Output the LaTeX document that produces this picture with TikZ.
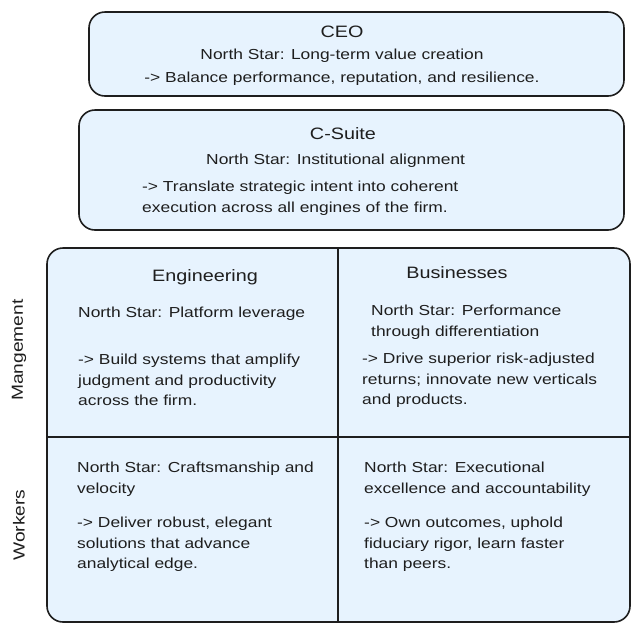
\documentclass[tikz,border=0pt]{standalone}
\usepackage{fontspec}
\setmainfont[FakeStretch=1.2]{Liberation Sans}
\definecolor{boxfill}{HTML}{E7F3FE}
\definecolor{ink}{HTML}{1E1E1E}
\begin{document}
\begin{tikzpicture}[x=1pt,y=-1pt,
  panel/.style={draw=ink, fill=boxfill, line width=1.6pt, rounded corners=16pt, inner sep=0pt},
  divider/.style={draw=ink, line width=1.6pt},
  title/.style={font=\fontsize{16.5}{22}\selectfont, text=ink, inner sep=0pt},
  body/.style={font=\fontsize{14.5}{20.5}\selectfont, text=ink, inner sep=0pt, align=left},
  sidelabel/.style={font=\fontsize{16}{20}\selectfont, text=ink, inner sep=0pt, rotate=90}]
\useasboundingbox (0,0) rectangle (639,633);
% boxes
\node[panel, minimum width=535pt, minimum height=84pt] (ceo) at (356.5,54) {};
\node[panel, minimum width=545pt, minimum height=120pt] (csuite) at (351.5,170) {};
\node[panel, minimum width=583pt, minimum height=374pt] (grid) at (338.5,435) {};
\coordinate (vtop) at (338,248);
\coordinate (vbot) at (338,622);
\coordinate (hleft) at (47,437);
\coordinate (hright) at (630,437);
\draw[divider] (vtop) -- (vbot);
\draw[divider] (hleft) -- (hright);
% CEO
\node[title] (ceot) at (342,32) {CEO};
\node[body] (ceon) at (342,56) {North Star: Long-term value creation};
\node[body] (ceod) at (342,79) {-> Balance performance, reputation, and resilience.};
% C-Suite
\node[title] (cst) at (343,134) {C-Suite};
\node[body, anchor=west] (csn) at (206,161) {North Star: Institutional alignment};
\node[body, anchor=north west] (csd) at (142,181) {-> Translate strategic intent into coherent\\execution across all engines of the firm.};
% Engineering
\node[title] (engt) at (205,277) {Engineering};
\node[body, anchor=west] (engn) at (78,314) {North Star: Platform leverage};
\node[body, anchor=north west] (engd) at (78,354) {-> Build systems that amplify\\judgment and productivity\\across the firm.};
% Businesses
\node[title] (bust) at (457,273) {Businesses};
\node[body, anchor=north west] (busn) at (371,305) {North Star: Performance\\through differentiation};
\node[body, anchor=north west] (busd) at (362,353) {-> Drive superior risk-adjusted\\returns; innovate new verticals\\and products.};
% Workers left
\node[body, anchor=north west] (wln) at (77,462) {North Star: Craftsmanship and\\velocity};
\node[body, anchor=north west] (wld) at (77,517) {-> Deliver robust, elegant\\solutions that advance\\analytical edge.};
% Workers right
\node[body, anchor=north west] (wrn) at (364,462) {North Star: Executional\\excellence and accountability};
\node[body, anchor=north west] (wrd) at (364,517) {-> Own outcomes, uphold\\fiduciary rigor, learn faster\\than peers.};
% side labels
\node[sidelabel] (mg) at (19,350) {Mangement};
\node[sidelabel] (wk) at (19,525) {Workers};
\end{tikzpicture}
\end{document}
